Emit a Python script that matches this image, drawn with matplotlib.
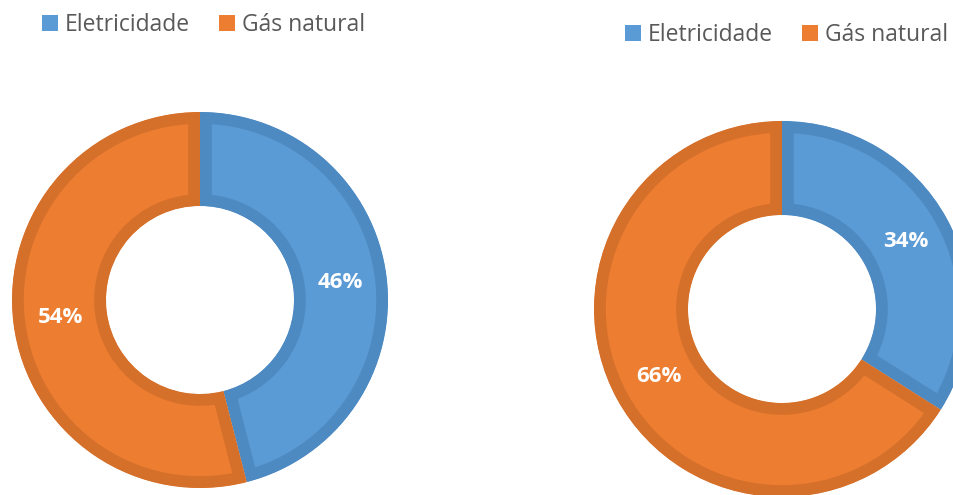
import matplotlib.pyplot as plt
from matplotlib.patches import Patch

W, H = 954, 495
DPI = 100

categorias = ["Eletricidade", "Gás natural"]
valores_esq = [46, 54]
valores_dir = [34, 66]

cores = ["#5B9BD5", "#ED7D31"]
cores_borda = ["#4E8AC2", "#D5702B"]

plt.rcParams['font.family'] = ['Open Sans', 'DejaVu Sans']

fig = plt.figure(figsize=(W / DPI, H / DPI), dpi=DPI)


def donut(cx, cy, r, valores):
    # cx, cy em pixels a partir do canto superior esquerdo
    ax = fig.add_axes([(cx - r) / W, (H - cy - r) / H, 2 * r / W, 2 * r / H])
    wedges, textos, pcts = ax.pie(
        valores, colors=cores, startangle=90, counterclock=False,
        radius=1, autopct='%d%%', pctdistance=0.75,
        wedgeprops=dict(width=0.5, linewidth=17),
        textprops=dict(color="white", fontsize=16, fontweight="bold"))
    ax.set_xlim(-1, 1)
    ax.set_ylim(-1, 1)
    ax.set_aspect('equal')
    ax.axis('off')
    # borda só do lado de dentro de cada fatia
    for w, c in zip(wedges, cores_borda):
        w.set_edgecolor(c)
        w.set_clip_on(True)
        w.set_clip_path(w.get_path(), w.get_transform())
    return ax


def legenda(x, y):
    handles = [Patch(facecolor=c, edgecolor='none') for c in cores]
    fig.legend(handles, categorias, loc='center left',
               bbox_to_anchor=(x / W, 1 - y / H), ncol=2, frameon=False,
               fontsize=16.5, labelcolor="#595959", handlelength=0.68,
               handleheight=0.68, handletextpad=0.3, columnspacing=1.3,
               borderpad=0, borderaxespad=0)


donut(200, 300, 188, valores_esq)
donut(782, 309, 188, valores_dir)
legenda(42, 25)
legenda(625, 35)

fig.savefig("out.png", dpi=DPI)
